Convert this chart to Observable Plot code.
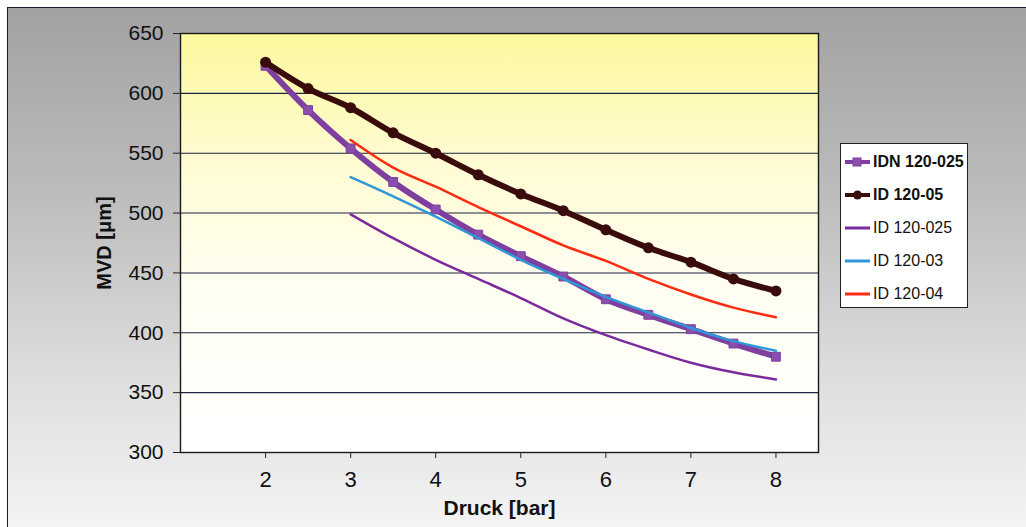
<!DOCTYPE html>
<html><head><meta charset="utf-8">
<script src="https://cdn.jsdelivr.net/npm/d3@7"></script>
<script src="https://cdn.jsdelivr.net/npm/@observablehq/plot@0.6"></script>
<style>
html,body{margin:0;padding:0;background:#fff;width:1026px;height:527px;overflow:hidden;font-family:"Liberation Sans",Arial,sans-serif;}
#frame{position:absolute;left:7px;top:7px;width:1030px;height:530px;border:1.5px solid #1a1a2a;background:linear-gradient(to bottom,#a2a2a2 0%,#bcbcbc 35%,#dedede 70%,#f5f5f5 100%);}
#chart{position:absolute;left:0;top:0;}
#legend{position:absolute;left:840px;top:143px;width:128px;height:165px;background:#fff;border:1.5px solid #222;box-sizing:border-box;}
.row{position:absolute;left:3px;height:20px;display:flex;align-items:center;font-size:16px;color:#111;white-space:nowrap;}
.row svg{margin-right:2px;}
</style></head><body>
<div id="frame"></div><div id="chart"></div><div id="legend"></div>
<script>
// Data
const pressureFull = [2, 2.5, 3, 3.5, 4, 4.5, 5, 5.5, 6, 6.5, 7, 7.5, 8];
const pressureThin = [3, 3.5, 4, 4.5, 5, 5.5, 6, 6.5, 7, 7.5, 8];
const idn120_025 = [623, 586, 554, 526, 503, 482, 464, 447, 428, 415, 403, 391, 380];
const id120_05   = [626, 604, 588, 567, 550, 532, 516, 502, 486, 471, 459, 445, 435];
const id120_025  = [499, 479, 461, 445, 429, 412, 398, 386, 375, 367, 361];
const id120_03   = [530, 514, 497, 479, 461, 445, 430, 417, 404, 393, 385];
const id120_04   = [561, 538, 522, 505, 489, 473, 460, 445, 432, 421, 413];
const seriesNames = ["IDN 120-025", "ID 120-05", "ID 120-025", "ID 120-03", "ID 120-04"];
const xTicks = [2, 3, 4, 5, 6, 7, 8];
const yTicks = [300, 350, 400, 450, 500, 550, 600, 650];
const gridTicks = [350, 400, 450, 500, 550, 600];

const colors = {
  "IDN 120-025": "#7f3f9f",
  "ID 120-05": "#3a0b0b",
  "ID 120-025": "#7a2a9c",
  "ID 120-03": "#2f96d8",
  "ID 120-04": "#ff2a10"
};
const markerFill = {"IDN 120-025": "#8a4fac", "ID 120-05": "#3a0b0b"};

const toRows = (name, xs, ys) => xs.map((x, i) => ({series: name, x, y: ys[i]}));
const dIDN = toRows(seriesNames[0], pressureFull, idn120_025);
const d05 = toRows(seriesNames[1], pressureFull, id120_05);
const d025 = toRows(seriesNames[2], pressureThin, id120_025);
const d03 = toRows(seriesNames[3], pressureThin, id120_03);
const d04 = toRows(seriesNames[4], pressureThin, id120_04);

const plot = Plot.plot({
  width: 1026,
  height: 527,
  marginLeft: 180,
  marginRight: 208,
  marginTop: 33,
  marginBottom: 75,
  style: {background: "transparent", fontFamily: "Liberation Sans, Arial, sans-serif", color: "#111"},
  x: {domain: [1, 8.5]},
  y: {domain: [300, 650]},
  marks: [
    Plot.frame({fill: "url(#plotBg)", stroke: null}),
    Plot.ruleY(gridTicks, {stroke: "#1c2242", strokeWidth: 1.1}),
    Plot.frame({stroke: "#1a1a1a", strokeWidth: 1.4}),
    Plot.line(dIDN, {x: "x", y: "y", stroke: colors["IDN 120-025"], strokeWidth: 6, curve: "monotone-x"}),
    Plot.dot(dIDN, {x: "x", y: "y", symbol: "square", r: 5, fill: markerFill["IDN 120-025"], stroke: colors["IDN 120-025"], strokeWidth: 1}),
    Plot.line(d05, {x: "x", y: "y", stroke: colors["ID 120-05"], strokeWidth: 6, curve: "monotone-x"}),
    Plot.dot(d05, {x: "x", y: "y", r: 5.5, fill: markerFill["ID 120-05"]}),
    Plot.line(d025, {x: "x", y: "y", stroke: colors["ID 120-025"], strokeWidth: 2.5, curve: "monotone-x"}),
    Plot.line(d04, {x: "x", y: "y", stroke: colors["ID 120-04"], strokeWidth: 2.5, curve: "monotone-x"}),
    Plot.line(d03, {x: "x", y: "y", stroke: colors["ID 120-03"], strokeWidth: 2.5, curve: "monotone-x"}),
    Plot.axisY({ticks: yTicks, tickSize: 7, tickPadding: 10, fontSize: 21, label: null, stroke: "#222"}),
    Plot.axisX({ticks: xTicks, tickSize: 6, tickPadding: 13, fontSize: 22, label: null, stroke: "#222"}),
    Plot.text(["Druck [bar]"], {frameAnchor: "bottom", dy: 56, lineAnchor: "middle", textAnchor: "middle", fontSize: 21, fontWeight: "bold", fill: "#111"}),
    Plot.text(["MVD [μm]"], {frameAnchor: "left", dx: -76, textAnchor: "middle", lineAnchor: "middle", rotate: -90, fontSize: 20, fontWeight: "bold", fill: "#111"})
  ]
});

const ns = "http://www.w3.org/2000/svg";
const defs = document.createElementNS(ns, "defs");
defs.innerHTML = `<linearGradient id="plotBg" x1="0" y1="0" x2="0" y2="1">
  <stop offset="0" stop-color="#fbf89c"/>
  <stop offset="0.3" stop-color="#fffbd2"/>
  <stop offset="0.6" stop-color="#fffef2"/>
  <stop offset="1" stop-color="#ffffff"/>
</linearGradient>`;
plot.insertBefore(defs, plot.firstChild);
document.getElementById("chart").appendChild(plot);

// Legend
const legend = document.getElementById("legend");
seriesNames.forEach((name, i) => {
  const row = document.createElement("div");
  row.className = "row";
  row.style.top = (8 + i * 33) + "px";
  const bold = i < 2;
  let sw = `<svg width="27" height="14">`;
  sw += `<line x1="1" y1="7" x2="26" y2="7" stroke="${colors[name]}" stroke-width="${bold ? 4 : 3}"/>`;
  if (i === 0) sw += `<rect x="9" y="3" width="8" height="8" fill="${markerFill[name]}" stroke="${colors[name]}"/>`;
  if (i === 1) sw += `<circle cx="13.5" cy="7" r="4.5" fill="${markerFill[name]}"/>`;
  sw += `</svg>`;
  row.innerHTML = sw + `<span style="font-weight:${bold ? "bold" : "normal"}">${name}</span>`;
  legend.appendChild(row);
});
</script>
</body></html>
